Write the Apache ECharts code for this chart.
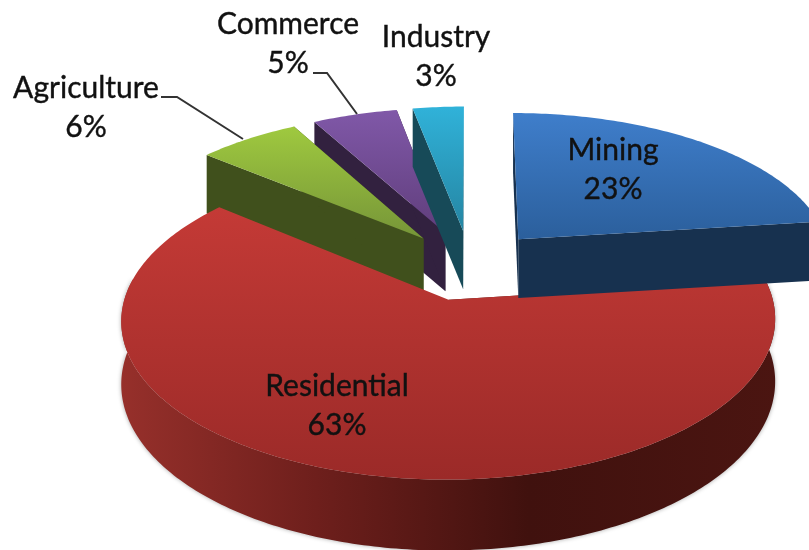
<!DOCTYPE html>
<html>
<head>
<meta charset="utf-8">
<title>Energy use by sector</title>
<script src="https://cdn.jsdelivr.net/npm/echarts@6/dist/echarts.min.js"></script>
<style>
  html, body { margin: 0; padding: 0; background: #fff; }
  #main { width: 809px; height: 550px; }
</style>
</head>
<body>
<div id="main"></div>
<script>
const categories = ['Mining', 'Residential', 'Agriculture', 'Commerce', 'Industry'];
const shares = [23, 63, 6, 5, 3];

// look of each slice, same order as categories
const topColors = [
  ['#3f7ecb', '#2b5f9c'],
  ['#c43a36', '#9b2a28'],
  ['#9fc93f', '#769538'],
  ['#8058a8', '#603e7c'],
  ['#30b2d9', '#2585a2']
];
const wallColors = ['#17314f', '#5a1a17', '#40501c', '#32213f', '#174a58'];
const paintOrder = [3, 4, 2, 1, 0]; // back slices first
const labelSpots = [[613, 170], [337, 406], [86, 108], [288, 44], [436, 57]];
const leaderLines = [null, null, [[161, 97], [177, 97], [243, 139]], [[313, 73], [327, 73], [357, 114]], null];

// projection of the tilted pie
const cx = 470, cy = 265, rx = 315, ry = 148, persp = 0.125, depth = 60, explode = 0.237;

function project(u, v, down) {
  const w = 1 - persp * v;
  return [cx + rx * u / w, cy + ry * v / w + (down ? depth / w : 0)];
}

const total = shares.reduce((a, b) => a + b, 0);

function sliceElements(i) {
  const before = shares.slice(0, i).reduce((a, b) => a + b, 0);
  const a0 = before / total * 2 * Math.PI;
  const a1 = (before + shares[i]) / total * 2 * Math.PI;
  const mid = (a0 + a1) / 2;
  const ou = Math.sin(mid) * explode, ov = -Math.cos(mid) * explode;

  const rimTop = [], rimFrontTop = [], rimFrontBottom = [];
  const steps = Math.ceil((a1 - a0) / 0.015);
  for (let s = 0; s <= steps; s++) {
    const a = a0 + (a1 - a0) * s / steps;
    const u = ou + Math.sin(a), v = ov - Math.cos(a);
    rimTop.push(project(u, v, false));
    // only the part of the rim that faces the viewer
    if (-Math.cos(a) > -0.15) {
      rimFrontTop.push(project(u, v, false));
      rimFrontBottom.push(project(u, v, true));
    }
  }
  const apexTop = project(ou, ov, false);
  const apexBottom = project(ou, ov, true);
  const z2 = paintOrder.indexOf(i);
  const wall = wallColors[i];
  const isBig = categories[i] === 'Residential';

  const rimFill = isBig
    ? new echarts.graphic.LinearGradient(118, 0, 780, 0, [
        { offset: 0, color: '#97302b' },
        { offset: 0.3, color: '#6e1f1c' },
        { offset: 0.62, color: '#40110e' },
        { offset: 1, color: '#4b1511' }
      ], true)
    : wall;

  const firstTop = rimTop[0], lastTop = rimTop[steps];
  const drop = (p) => [p[0], p[1] + (apexBottom[1] - apexTop[1])];
  const out = [
    { type: 'polygon', z2, shape: { points: [firstTop, apexTop, apexBottom, drop(firstTop)] }, style: { fill: wall } }
  ];
  if (!isBig) {
    out.push({ type: 'polygon', z2, shape: { points: [lastTop, apexTop, apexBottom, drop(lastTop)] }, style: { fill: wall } });
  }
  if (rimFrontTop.length > 1) {
    out.push({ type: 'polygon', z2, shape: { points: rimFrontTop.concat(rimFrontBottom.slice().reverse()) },
      style: isBig
        ? { fill: rimFill, shadowBlur: 4, shadowColor: 'rgba(0,0,0,0.35)' }
        : { fill: rimFill } });
  }
  out.push({ type: 'polygon', z2, shape: { points: [apexTop].concat(rimTop) },
    style: { fill: new echarts.graphic.LinearGradient(0, 0, 0, 1, [
      { offset: 0, color: topColors[i][0] },
      { offset: 1, color: topColors[i][1] }
    ]) } });
  return out;
}

function labelElements(i) {
  const out = [{
    type: 'text', z2: 10, x: labelSpots[i][0], y: labelSpots[i][1],
    style: {
      text: categories[i] + '\n' + shares[i] + '%',
      fill: '#111', stroke: '#111', lineWidth: 0.4,
      font: '30px Lato', lineHeight: 39, align: 'center', verticalAlign: 'middle'
    }
  }];
  if (leaderLines[i]) {
    out.push({ type: 'polyline', z2: 10, shape: { points: leaderLines[i] },
      style: { stroke: '#333', lineWidth: 2, fill: 'none' } });
  }
  return out;
}

const myChart = echarts.init(document.getElementById('main'));
myChart.setOption({
  animation: false,
  backgroundColor: '#fff',
  series: [{
    type: 'custom',
    coordinateSystem: 'none',
    data: shares,
    renderItem: function (params) {
      const i = params.dataIndex;
      return { type: 'group', children: sliceElements(i).concat(labelElements(i)) };
    }
  }]
});
</script>
</body>
</html>
